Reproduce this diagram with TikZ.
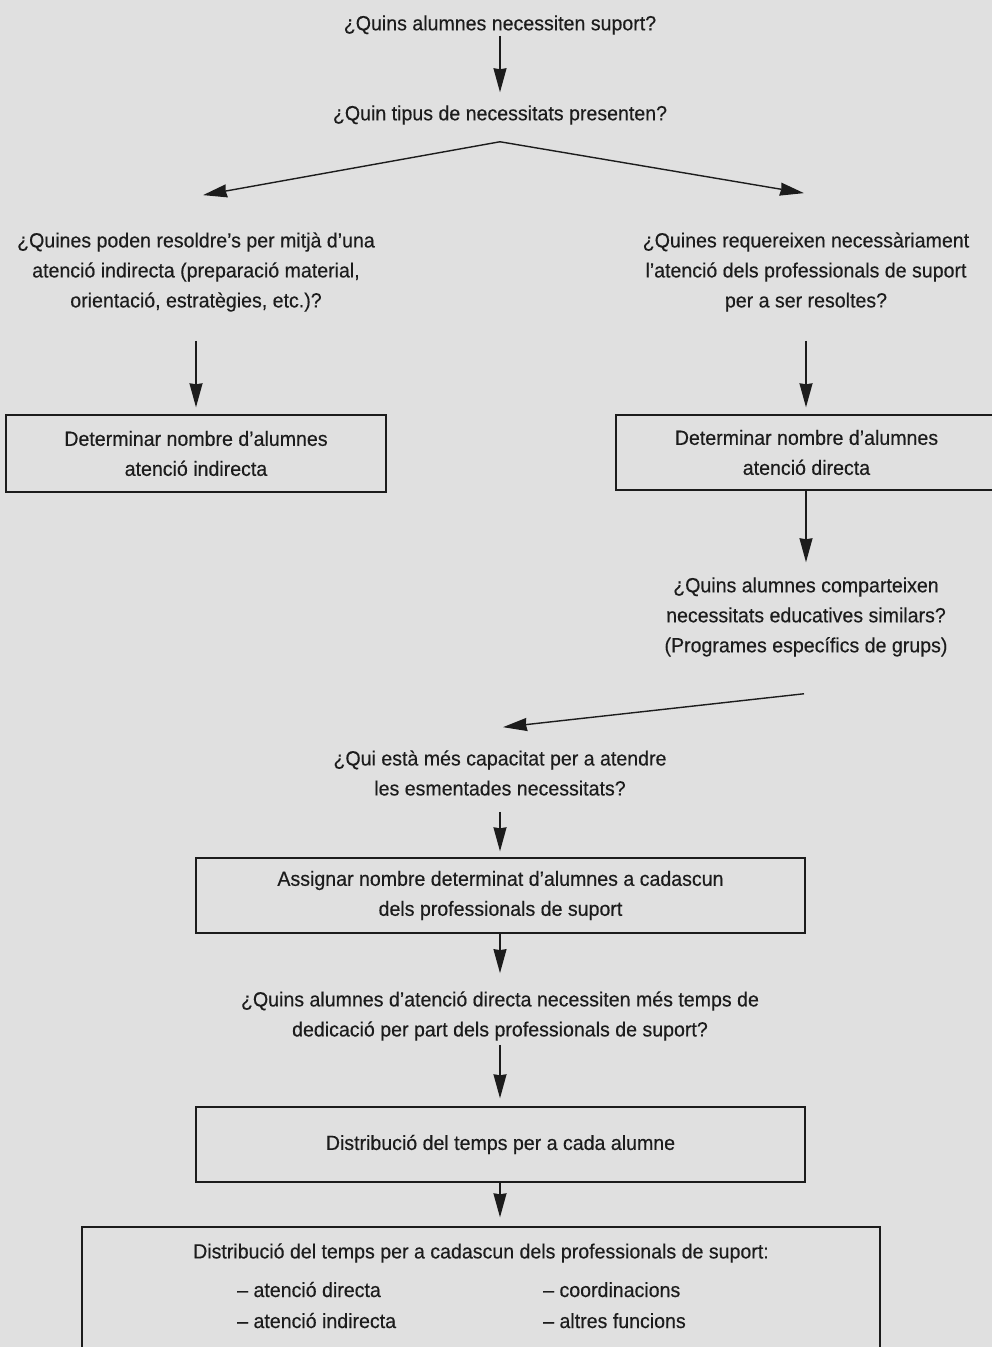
\documentclass[tikz,border=0pt]{standalone}
\usepackage{fontspec}
\setmainfont{Liberation Sans}[FakeStretch=0.955,FakeBold=0.35]
\usetikzlibrary{arrows.meta,calc}
\definecolor{bg}{RGB}{224,224,224}
\definecolor{ink}{RGB}{28,28,28}
\tikzset{
  txt/.style={font=\fontsize{20.5}{30}\selectfont, align=center, inner sep=0pt, text=ink},
  itm/.style={font=\fontsize{20.5}{30}\selectfont, inner sep=0pt, text=ink, anchor=base west},
  boxnode/.style={draw=ink, line width=1.4pt, inner sep=0pt, font=\fontsize{20.5}{30}\selectfont, align=center, text=ink},
  arr/.style={draw=ink, line width=1.4pt, -{Stealth[length=24pt,width=13pt,inset=1pt]}}
}
\begin{document}
\begin{tikzpicture}[x=1pt,y=-1pt]
\fill[bg] (0,0) rectangle (992,1347);
\useasboundingbox (0,0) rectangle (992,1347);

\node[txt] (q1) at (500,25) {¿Quins alumnes necessiten suport?};
\node[txt] (q2) at (500,115) {¿Quin tipus de necessitats presenten?};
\node[txt] (q3) at (196,272) {¿Quines poden resoldre's per mitjà d'una\\atenció indirecta (preparació material,\\orientació, estratègies, etc.)?};
\node[txt] (q4) at (806,272) {¿Quines requereixen necessàriament\\l'atenció dels professionals de suport\\per a ser resoltes?};
\node[boxnode, minimum width=380pt, minimum height=77pt] (b1) at (196,453.5) {Determinar nombre d'alumnes\\atenció indirecta};
\node[boxnode, minimum width=384pt, minimum height=75pt] (b2) at (808,452.5) {\hspace*{-3pt}Determinar nombre d'alumnes\\\hspace*{-3pt}atenció directa};
\node[txt] (q5) at (806,617) {¿Quins alumnes comparteixen\\necessitats educatives similars?\\(Programes específics de grups)};
\node[txt] (q6) at (500,773) {¿Qui està més capacitat per a atendre\\les esmentades necessitats?};
\node[boxnode, minimum width=609pt, minimum height=75pt] (b3) at (500.5,895.5) {Assignar nombre determinat d'alumnes a cadascun\\dels professionals de suport};
\node[txt] (q7) at (500,1016) {¿Quins alumnes d'atenció directa necessiten més temps de\\dedicació per part dels professionals de suport?};
\node[boxnode, minimum width=609pt, minimum height=75pt] (b4) at (500.5,1144.5) {Distribució del temps per a cada alumne};
\node[boxnode, minimum width=798pt, minimum height=150pt] (b5) at (481,1302) {};
\node[txt] (t5) at (481,1253) {Distribució del temps per a cadascun dels professionals de suport:};
\node[itm] (i1) at (237,1297) {– atenció directa};
\node[itm] (i2) at (543,1297) {– coordinacions};
\node[itm] (i3) at (237,1328) {– atenció indirecta};
\node[itm] (i4) at (543,1328) {– altres funcions};

\draw[arr] ([yshift=-1pt]q1.south) -- ([yshift=13pt]q2.north);
\coordinate (apex) at ([yshift=-17pt]q2.south);
\draw[arr] (apex) -- ([xshift=7pt,yshift=37pt]q3.north);
\draw[arr] (apex) -- ([xshift=-2pt,yshift=39pt]q4.north);
\draw[arr] ([yshift=-29pt]q3.south) -- ([yshift=7pt]q3.south |- b1.north);
\draw[arr] ([yshift=-29pt]q4.south) -- ([yshift=7pt]q4.south |- b2.north);
\draw[arr] (q4.south |- b2.south) -- ([yshift=15pt]q5.north);
\draw[arr] ([xshift=-2pt,yshift=-37pt]q5.south) -- ([xshift=3pt,yshift=23pt]q6.north);
\draw[arr] ([yshift=-16pt]q6.south) -- ([yshift=6pt]q6.south |- b3.north);
\draw[arr] (q6.south |- b3.south) -- ([yshift=18pt]q7.north);
\draw[arr] ([yshift=-4pt]q7.south) -- ([yshift=8pt]q7.south |- b4.north);
\draw[arr] (q7.south |- b4.south) -- ([yshift=9pt]q7.south |- b5.north);
\end{tikzpicture}
\end{document}
